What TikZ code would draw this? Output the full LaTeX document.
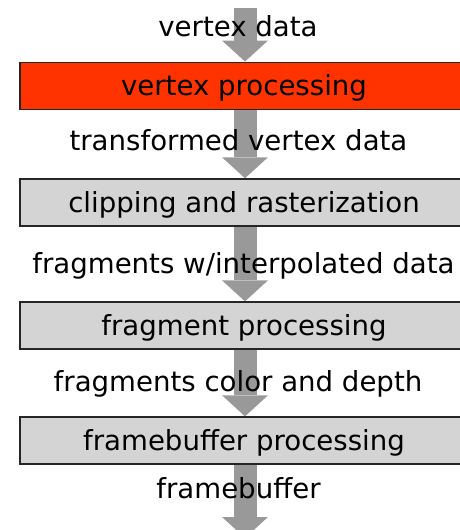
\documentclass[tikz,border=0pt]{standalone}
\usepackage{fontspec}
\setmainfont{DejaVu Sans}
\usetikzlibrary{calc,backgrounds}
\definecolor{boxred}{HTML}{FF3300}
\definecolor{boxgray}{HTML}{D4D4D4}
\definecolor{arrowgray}{HTML}{999999}
\definecolor{boxline}{HTML}{262626}
\newcommand\flowarrow[2]{%
  \fill[arrowgray] ($(#1)+(-10.5,0)$) rectangle ($(#2)+(12.5,-21)$);
  \fill[arrowgray] ($(#2)+(-22,-21)$) -- ($(#2)+(24,-21)$) -- ($(#2)+(1,0)$) -- cycle;}
\begin{document}
\begin{tikzpicture}[x=1pt,y=-1pt,
  font=\fontsize{27.6}{32}\selectfont,
  stagebox/.style={draw=boxline, line width=1.3pt, fill=boxgray,
    minimum width=448pt, minimum height=47pt, inner sep=0pt,
    text height=23pt, text depth=3pt},
  datalabel/.style={inner sep=0pt, anchor=base}]
\useasboundingbox (0,0) rectangle (460,530);
% stages
\node[stagebox, fill=boxred] (b1) at (244,85.7) {vertex processing};
\node[stagebox] (b2) at (244,202.4) {clipping and rasterization};
\node[stagebox] (b3) at (244,325.5) {fragment processing};
\node[stagebox] (b4) at (244,440.5) {framebuffer processing};
\coordinate (in) at (244,8);
\coordinate (out) at (244,538);
% arrows behind
\begin{scope}[on background layer]
  \flowarrow{in}{b1.north}
  \flowarrow{b1.south}{b2.north}
  \flowarrow{b2.south}{b3.north}
  \flowarrow{b3.south}{b4.north}
  \flowarrow{b4.south}{out}
\end{scope}
% data labels
\node[datalabel] (l1) at (238,36) {vertex data};
\node[datalabel] (l2) at (238.5,150) {transformed vertex data};
\node[datalabel] (l3) at (243.5,273) {fragments w/interpolated data};
\node[datalabel] (l4) at (238,391) {fragments color and depth};
\node[datalabel] (l5) at (238.5,498) {framebuffer};
\end{tikzpicture}
\end{document}
